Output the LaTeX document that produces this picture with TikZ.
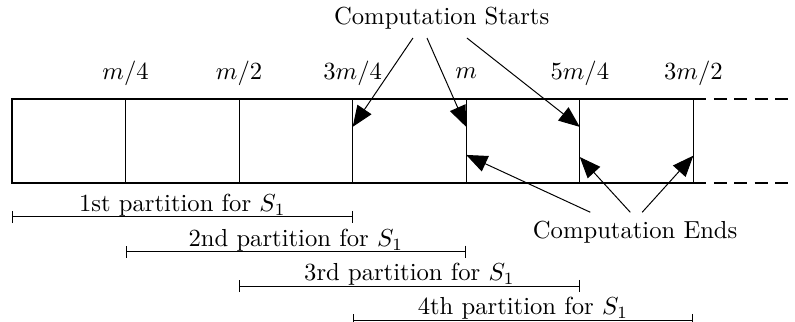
\documentclass[tikz,border=0pt]{standalone}
\usetikzlibrary{arrows.meta}
\tikzset{
  comparrow/.style={-{Triangle[length=3mm,width=2.4mm]}},
  partline/.style={{Bar[width=5pt]}-{Bar[width=5pt]}},
  partlabel/.style={above,inner sep=0pt},
}
\begin{document}
\begin{tikzpicture}
                        \useasboundingbox (-0.171,-1.983) rectangle (11.17,2.61);
                        % Buffer (top and bottom edges)
                        \draw[thick] (9.72,1.2) -- (0,1.2) -- (0,0) -- (9.72,0);
                        \draw[thick,dash pattern=on 5.3pt off 3pt] (9.72,1.2) -- (11.17,1.2);
                        \draw[thick,dash pattern=on 5.3pt off 3pt] (9.72,0) -- (11.17,0);
                        \foreach \i in {1,...,6}
                          \draw (1.62*\i,0) -- (1.62*\i,1.2);
                        % Offsets
                        \node (q1) at (1.62,1.56) {$m/4$};
                        \node (q2) at (3.24,1.56) {$m/2$};
                        \node (q3) at (4.86,1.56) {$3m/4$};
                        \node (q4) at (6.48,1.56) {$m$};
                        \node (q5) at (8.10,1.56) {$5m/4$};
                        \node (q6) at (9.72,1.56) {$3m/2$};
                        % Arrow ends on the cell borders
                        \coordinate (s1) at (4.86,0.8);
                        \coordinate (s2) at (6.48,0.8);
                        \coordinate (s3) at (8.10,0.8);
                        \coordinate (e1) at (6.48,0.4);
                        \coordinate (e2) at (8.10,0.37);
                        \coordinate (e3) at (9.72,0.39);
                        % Computation starts
                        \node (starts) at (6.13,2.35) {Computation Starts};
                        \draw[comparrow] ([xshift=-0.41cm]starts.south) -- (s1);
                        \draw[comparrow] ([xshift=-0.21cm]starts.south) -- (s2);
                        \draw[comparrow] ([xshift=0.36cm]starts.south) -- (s3);
                        % Computation ends
                        \node (ends) at (8.89,-0.70) {Computation Ends};
                        \draw[comparrow] ([xshift=-0.64cm]ends.north) -- (e1);
                        \draw[comparrow] ([xshift=-0.07cm]ends.north) -- (e2);
                        \draw[comparrow] ([xshift=0.10cm]ends.north) -- (e3);
                        % Partitions
                        \draw[partline] (0,-0.485) -- node[partlabel] (p1) {1st partition for $S_1$} (4.86,-0.485);
                        \draw[partline] (1.62,-0.98) -- node[partlabel] (p2) {2nd partition for $S_1$} (6.48,-0.98);
                        \draw[partline] (3.24,-1.47) -- node[partlabel] (p3) {3rd partition for $S_1$} (8.10,-1.47);
                        \draw[partline] (4.86,-1.955) -- node[partlabel] (p4) {4th partition for $S_1$} (9.72,-1.955);
\end{tikzpicture}
\end{document}
